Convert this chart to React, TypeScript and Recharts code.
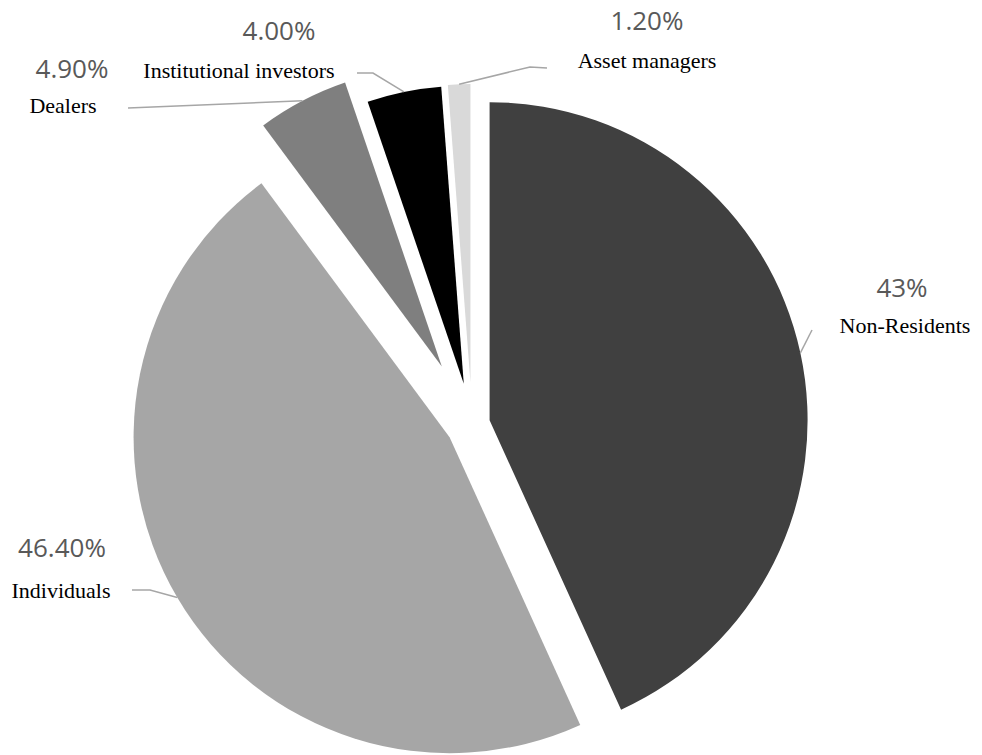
import React from "react";
import { PieChart, Pie, Cell } from "recharts";

const categories = ["Non-Residents", "Individuals", "Dealers", "Institutional investors", "Asset managers"];
const shares = [43, 46.4, 4.9, 4.0, 1.2];
const shareLabels = ["43%", "46.40%", "4.90%", "4.00%", "1.20%"];

const data = categories.map((name, i) => ({ name, value: shares[i] }));

// styling
const colors = ["#404040", "#a6a6a6", "#7f7f7f", "#000000", "#d9d9d9"];
const explode = [18, 26, 65, 41, 42];
const radii = [318, 316, 300, 298, 298];
const CX = 472;
const CY = 424;
const RAD = Math.PI / 180;

// label placement: percent text, name text and leader line bends
const labelLayout = [
  { px: 902, py: 287, nx: 905, ny: 325, path: [[812, 330]] },
  { px: 62, py: 547, nx: 61, ny: 590, path: [[150, 590], [132, 590]] },
  { px: 72, py: 68, nx: 63, ny: 105, path: [[128, 108]] },
  { px: 279, py: 30, nx: 239, ny: 70, path: [[373, 73], [357, 73]] },
  { px: 647, py: 20, nx: 647, ny: 60, path: [[530, 67], [547, 68]] },
];

const total = shares.reduce((a, b) => a + b, 0);
const midAngles = shares.map((v, i) => {
  const before = shares.slice(0, i).reduce((a, b) => a + b, 0);
  return 90 - (360 * (before + v / 2)) / total;
});

function makeLabel(slice: number) {
  return (props: any) => {
    if (props.index !== slice) return <g />;
    const { cx, cy, midAngle, outerRadius } = props;
    const sx = cx + outerRadius * Math.cos(-midAngle * RAD);
    const sy = cy + outerRadius * Math.sin(-midAngle * RAD);
    const lay = labelLayout[slice];
    const pts = [[sx, sy], ...lay.path].map((p) => p.join(",")).join(" ");
    return (
      <g>
        <polyline points={pts} fill="none" stroke="#a6a6a6" strokeWidth={1.5} />
        <text
          x={lay.px}
          y={lay.py}
          textAnchor="middle"
          dominantBaseline="central"
          fontFamily="'Open Sans', sans-serif"
          fontSize={26}
          fill="#595959"
        >
          {shareLabels[slice]}
        </text>
        <text
          x={lay.nx}
          y={lay.ny}
          textAnchor="middle"
          dominantBaseline="central"
          fontFamily="'Liberation Serif', serif"
          fontSize={22}
          fill="#000"
        >
          {categories[slice]}
        </text>
      </g>
    );
  };
}

export default function App() {
  return (
    <div style={{ position: "absolute", left: 0, top: 0, background: "#fff" }}>
      <PieChart width={982} height={755} margin={{ top: 0, right: 0, bottom: 0, left: 0 }}>
        {categories.map((_, s) => (
          <Pie
            key={s}
            data={data}
            dataKey="value"
            nameKey="name"
            cx={CX + explode[s] * Math.cos(midAngles[s] * RAD)}
            cy={CY - explode[s] * Math.sin(midAngles[s] * RAD)}
            outerRadius={radii[s]}
            innerRadius={0}
            startAngle={90}
            endAngle={-270}
            stroke="none"
            isAnimationActive={false}
            label={makeLabel(s)}
            labelLine={false}
          >
            {data.map((_, i) => (
              <Cell key={i} fill={i === s ? colors[i] : "none"} stroke="none" />
            ))}
          </Pie>
        ))}
      </PieChart>
    </div>
  );
}
